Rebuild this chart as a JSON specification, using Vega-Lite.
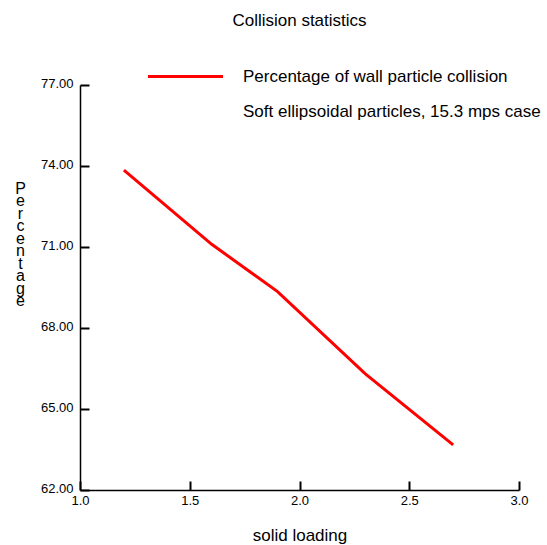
{
  "$schema": "https://vega.github.io/schema/vega-lite/v6.json",
  "autosize": {"type": "none"},
  "padding": {"left": 80, "top": 85, "right": 28, "bottom": 55},
  "width": 439,
  "height": 405,
  "background": "white",
  "config": {
    "font": "Liberation Sans",
    "view": {"stroke": null},
    "axis": {
      "grid": false,
      "domainColor": "black",
      "domainWidth": 1.5,
      "tickColor": "black",
      "tickWidth": 2,
      "tickSize": -9,
      "labelColor": "black",
      "labelFont": "Liberation Sans",
      "labelFontSize": 13,
      "titleColor": "black",
      "titleFont": "Liberation Sans",
      "titleFontWeight": "normal"
    }
  },
  "title": {
    "text": "Collision statistics",
    "frame": "group",
    "anchor": "middle",
    "fontSize": 17,
    "fontWeight": "normal",
    "font": "Liberation Sans",
    "color": "black",
    "offset": 30
  },
  "data": {
    "values": [
      {"solid_loading": 1.2, "percentage": 73.85, "series": "Percentage of wall particle collision"},
      {"solid_loading": 1.6, "percentage": 71.1, "series": "Percentage of wall particle collision"},
      {"solid_loading": 1.9, "percentage": 69.35, "series": "Percentage of wall particle collision"},
      {"solid_loading": 2.3, "percentage": 66.3, "series": "Percentage of wall particle collision"},
      {"solid_loading": 2.7, "percentage": 63.67, "series": "Percentage of wall particle collision"}
    ]
  },
  "mark": {"type": "line", "strokeWidth": 3},
  "encoding": {
    "x": {
      "field": "solid_loading",
      "type": "quantitative",
      "scale": {"domain": [1, 3], "nice": false, "zero": false},
      "axis": {
        "values": [1, 1.5, 2, 2.5, 3],
        "format": ".1f",
        "labelPadding": 13,
        "labelFlush": false,
        "title": "solid loading",
        "titleFontSize": 17,
        "titleY": 50,
        "titleBaseline": "alphabetic"
      }
    },
    "y": {
      "field": "percentage",
      "type": "quantitative",
      "scale": {"domain": [62, 77], "nice": false, "zero": false},
      "axis": {
        "values": [62, 65, 68, 71, 74, 77],
        "format": ".2f",
        "labelPadding": 16,
        "labelOffset": -2,
        "labelFlush": false,
        "title": ["P", "e", "r", "c", "e", "n", "t", "a", "g", "e"],
        "titleAngle": 0,
        "titleFontSize": 16,
        "titleLineHeight": 12.5,
        "titleAlign": "center",
        "titleBaseline": "middle",
        "titleX": -60,
        "titleY": 103
      }
    },
    "color": {
      "field": "series",
      "type": "nominal",
      "scale": {
        "domain": ["Percentage of wall particle collision", "Soft ellipsoidal particles, 15.3 mps case"],
        "range": ["#ff0000", "transparent"]
      },
      "legend": {
        "orient": "none",
        "legendX": 89,
        "legendY": -25,
        "title": null,
        "padding": 0,
        "symbolType": "M-2.5,0H2.5",
        "symbolSize": 900,
        "symbolStrokeWidth": 3,
        "labelFontSize": 17,
        "labelFont": "Liberation Sans",
        "labelColor": "black",
        "labelOffset": 41,
        "labelLimit": 400,
        "rowPadding": 10
      }
    }
  }
}
